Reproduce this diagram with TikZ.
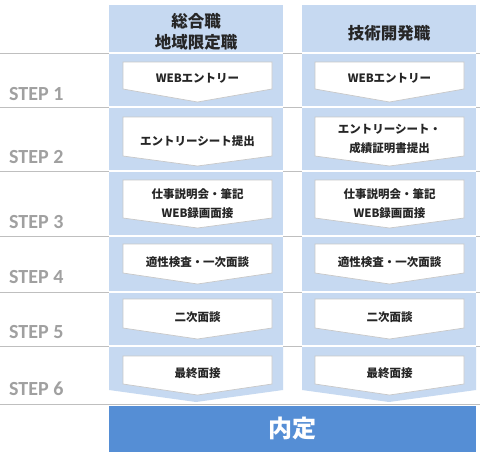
\documentclass[tikz,border=0pt]{standalone}
\usepackage{fontspec}
\setmainfont{Carlito}
\newfontfamily\jp{Noto Sans CJK JP}
\newfontfamily\stepfont{Carlito}
\definecolor{colblue}{RGB}{198,217,241}
\definecolor{darkblue}{RGB}{85,142,213}
\definecolor{sepgray}{RGB}{191,191,191}
\definecolor{stepgray}{RGB}{160,160,160}
\definecolor{boxline}{RGB}{200,200,200}
\definecolor{txt}{RGB}{38,38,38}
\newcommand\chevbox[5]{\filldraw[fill=white,draw=boxline,line width=0.7pt] (#1,#3) -- (#2,#3) -- (#2,#4) -- ({(#1+#2)/2},#5) -- (#1,#4) -- cycle;}
\begin{document}
\begin{tikzpicture}[x=1pt,y=-1pt,
  steplabel/.style={anchor=west,inner sep=0pt,text=stepgray,font=\stepfont\bfseries\fontsize{20}{20}\selectfont},
  headtext/.style={inner sep=0pt,align=center,text=txt,font=\jp\bfseries\fontsize{16.5}{21}\selectfont},
  boxtext/.style={inner sep=0pt,align=center,text=txt,font=\jp\bfseries\fontsize{11.5}{19.5}\selectfont}]
\useasboundingbox (0,0) rectangle (480,456);
\fill[white] (0,0) rectangle (480,456);
% blue columns
\fill[colblue] (109,5) rectangle (283,346);
\fill[colblue] (302,5) rectangle (476,346);
\fill[colblue] (109,346) -- (283,346) -- (283,390) -- (196,402) -- (109,390) -- cycle;
\fill[colblue] (302,346) -- (476,346) -- (476,390) -- (389,402) -- (302,390) -- cycle;
% separators
\foreach \yy in {53,107,171,236,292,346,404} {
  \draw[sepgray,line width=0.9pt] (0,\yy) -- (480,\yy);
}
\foreach \yy in {53,107,171,236,292,346} {
  \draw[white,line width=1.2pt] (109,\yy) -- (283,\yy);
  \draw[white,line width=1.2pt] (302,\yy) -- (476,\yy);
}
% headers
\node[headtext] (h1) at (196,32) {総合職\\地域限定職};
\node[headtext] (h2) at (389,33) {技術開発職};
% step labels
\node[steplabel] (s1) at (9,94) {STEP 1};
\node[steplabel] (s2) at (9,157) {STEP 2};
\node[steplabel] (s3) at (9,222) {STEP 3};
\node[steplabel] (s4) at (9,277) {STEP 4};
\node[steplabel] (s5) at (9,332) {STEP 5};
\node[steplabel] (s6) at (9,389) {STEP 6};
% boxes
\chevbox{123}{272}{62}{89}{102}
\chevbox{315}{464}{62}{89}{102}
\chevbox{123}{272}{117}{156}{166}
\chevbox{315}{464}{117}{156}{166}
\chevbox{123}{272}{180}{218}{228}
\chevbox{315}{464}{180}{218}{228}
\chevbox{123}{272}{244}{273}{284}
\chevbox{315}{464}{244}{273}{284}
\chevbox{123}{272}{299}{328}{339}
\chevbox{315}{464}{299}{328}{339}
\chevbox{123}{272}{356}{384}{395}
\chevbox{315}{464}{356}{384}{395}
% box texts
\node[boxtext] (a1) at (197.5,78) {WEBエントリー};
\node[boxtext] (b1) at (389.5,78) {WEBエントリー};
\node[boxtext] (a2) at (197.5,141) {エントリーシート提出};
\node[boxtext] (b2) at (389.5,139) {エントリーシート・\\成績証明書提出};
\node[boxtext] (a3) at (197.5,203.5) {仕事説明会・筆記\\WEB録画面接};
\node[boxtext] (b3) at (389.5,203.5) {仕事説明会・筆記\\WEB録画面接};
\node[boxtext] (a4) at (197.5,262) {適性検査・一次面談};
\node[boxtext] (b4) at (389.5,262) {適性検査・一次面談};
\node[boxtext] (a5) at (197.5,317) {二次面談};
\node[boxtext] (b5) at (389.5,317) {二次面談};
\node[boxtext] (a6) at (197.5,373) {最終面接};
\node[boxtext] (b6) at (389.5,373) {最終面接};
% final
\fill[darkblue] (109,406) rectangle (476,452);
\node[inner sep=0pt,text=white,font=\jp\bfseries\fontsize{24}{24}\selectfont] (fin) at (292.5,428) {内定};
\end{tikzpicture}
\end{document}
